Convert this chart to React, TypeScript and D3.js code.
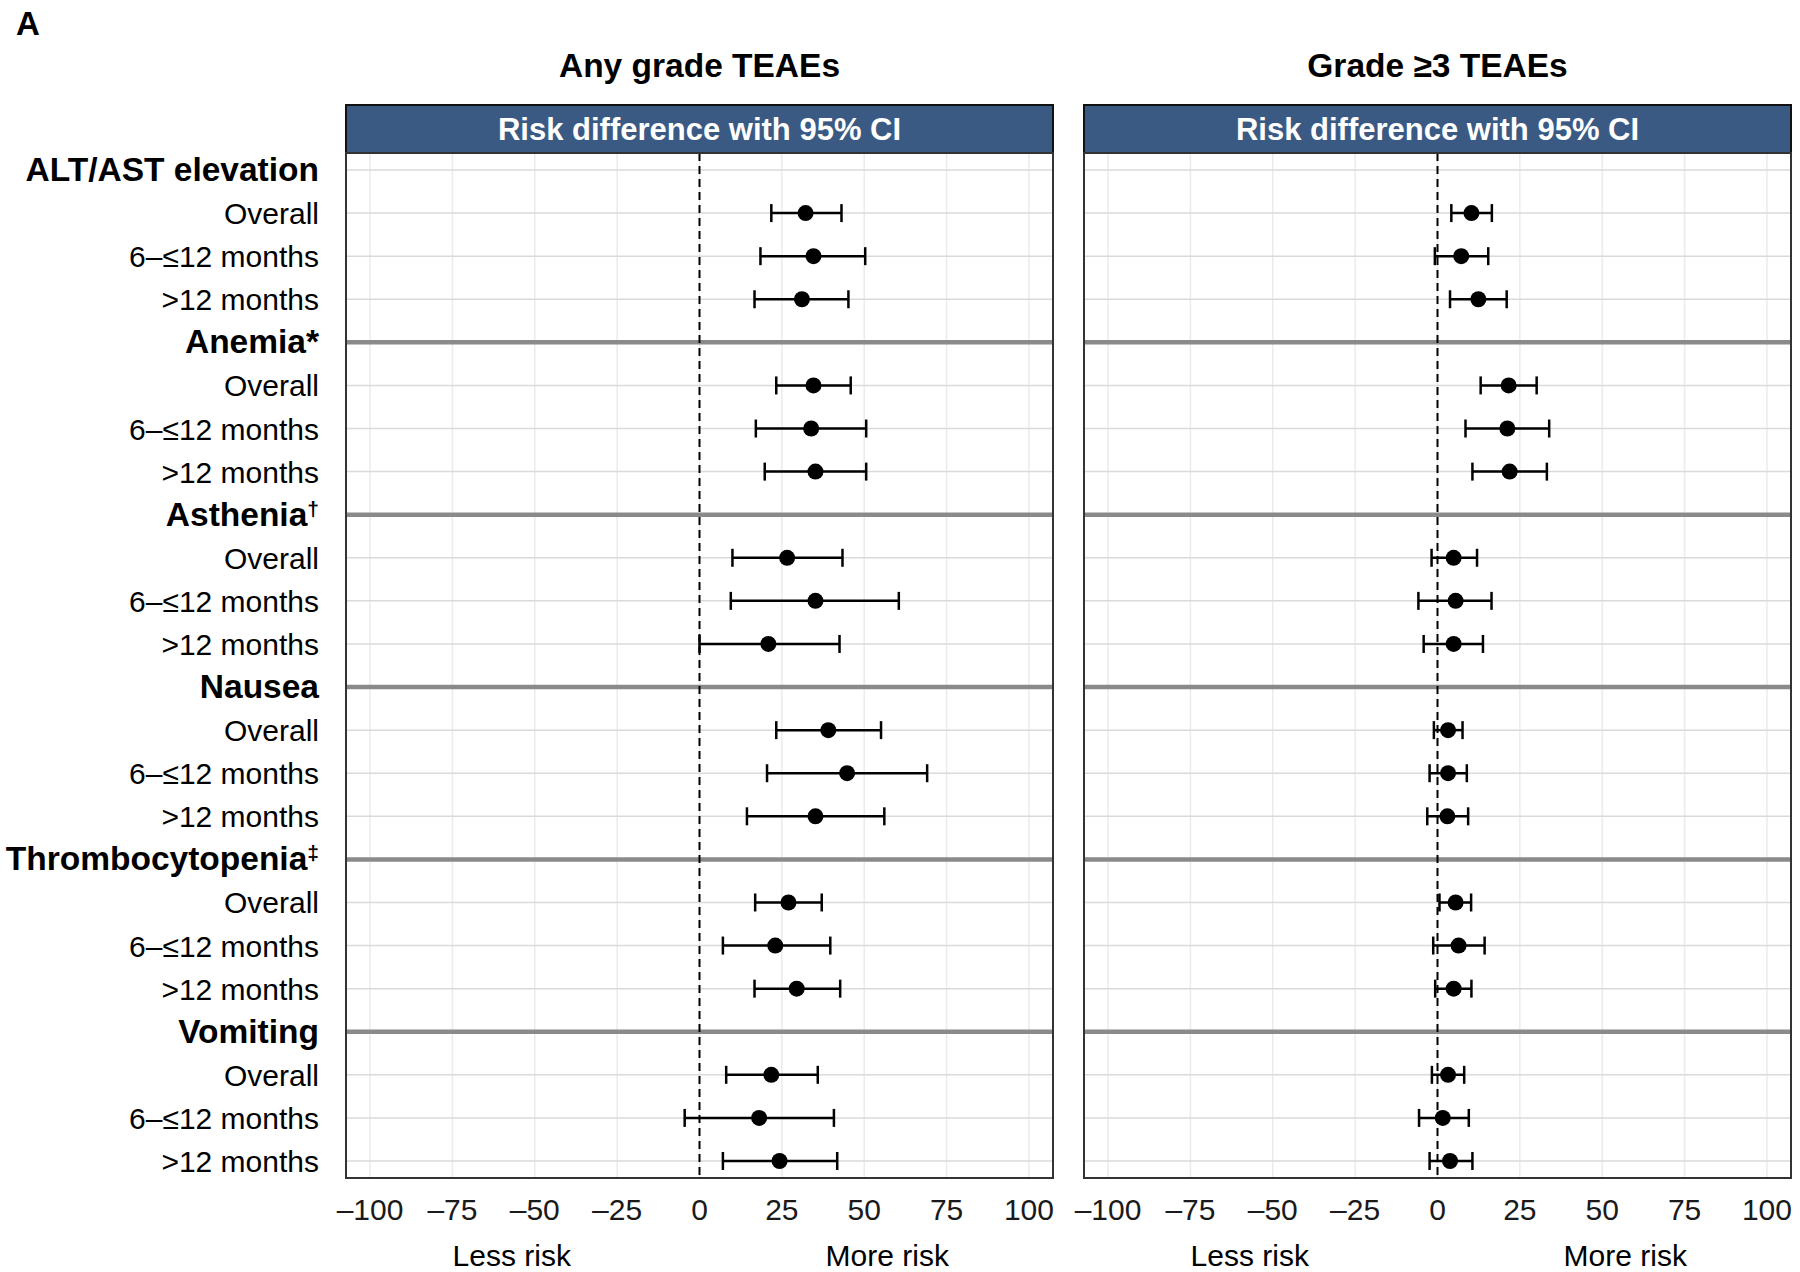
import React, { useEffect, useRef } from "react";
import * as d3 from "d3";

// adverse event groups and the subgroups shown under each
const groups = ["ALT/AST elevation", "Anemia", "Asthenia", "Nausea", "Thrombocytopenia", "Vomiting"];
const groupMarks = ["", "*", "†", "", "‡", ""];
const subgroups = ["Overall", "6–≤12 months", ">12 months"];

// Any grade TEAEs: risk difference (%) with 95% CI, 3 rows per group
const anyEst = [32.2, 34.6, 31.1, 34.6, 33.9, 35.2, 26.6, 35.2, 20.9, 39.1, 44.8, 35.2, 27.0, 23.0, 29.5, 21.8, 18.1, 24.3];
const anyLow = [21.8, 18.5, 16.7, 23.3, 17.1, 19.8, 10.0, 9.5, 0.0, 23.3, 20.5, 14.4, 16.9, 7.1, 16.7, 8.1, -4.5, 7.1];
const anyHigh = [43.1, 50.3, 45.2, 45.9, 50.6, 50.6, 43.4, 60.5, 42.5, 55.1, 69.1, 56.1, 37.1, 39.7, 42.7, 35.9, 40.8, 41.8];

// Grade >=3 TEAEs
const g3Est = [10.3, 7.2, 12.4, 21.6, 21.2, 21.9, 4.9, 5.5, 4.9, 3.2, 3.2, 3.0, 5.5, 6.4, 4.9, 3.2, 1.6, 3.8];
const g3Low = [4.2, -0.8, 3.8, 13.1, 8.5, 10.6, -1.8, -5.8, -4.2, -1.1, -2.4, -3.1, 0.6, -1.3, -0.7, -1.7, -5.6, -2.4];
const g3High = [16.5, 15.4, 21.0, 30.1, 33.9, 33.2, 12.0, 16.4, 13.8, 7.6, 8.9, 9.3, 10.2, 14.3, 10.3, 8.1, 9.5, 10.6];

const xTicks = [-100, -75, -50, -25, 0, 25, 50, 75, 100];
const panelTitles = ["Any grade TEAEs", "Grade ≥3 TEAEs"];
const stripLabel = "Risk difference with 95% CI";
const directionLabels = ["Less risk", "More risk"];
const directionAt = [-57, 57];

const FONT = "'Liberation Sans', Arial, sans-serif";

const App = () => {
  const chartRef = useRef(null);

  useEffect(() => {
    document.body.style.margin = "0";

    const width = 1800;
    const height = 1272;
    const panelW = 707;
    const panelLefts = [346, 1084];
    const stripTop = 105;
    const stripBottom = 153;
    const bodyBottom = 1178;

    // one row per group header + 3 subgroup rows
    const rows: { key: string; group: number; sub: number }[] = [];
    groups.forEach((g, gi) => {
      rows.push({ key: `g${gi}`, group: gi, sub: -1 });
      subgroups.forEach((s, si) => rows.push({ key: `g${gi}s${si}`, group: gi, sub: si }));
    });

    const y = d3
      .scalePoint()
      .domain(rows.map((r) => r.key))
      .range([170, 1161]);

    d3.select(chartRef.current).selectAll("*").remove();

    const svg = d3
      .select(chartRef.current)
      .append("svg")
      .attr("width", width)
      .attr("height", height)
      .style("display", "block")
      .style("background", "#fff")
      .style("font-family", FONT);

    // panel letter
    svg
      .append("text")
      .attr("x", 16)
      .attr("y", 35)
      .style("font-size", "33px")
      .style("font-weight", "bold")
      .text("A");

    // row labels
    const labels = svg.append("g").attr("text-anchor", "end");
    rows.forEach((r) => {
      const t = labels
        .append("text")
        .attr("x", 319)
        .attr("y", y(r.key) + 11)
        .style("fill", "#000");
      if (r.sub < 0) {
        t.style("font-size", "33.5px").style("font-weight", "bold").text(groups[r.group]);
        const mark = groupMarks[r.group];
        if (mark === "*") t.append("tspan").text("*");
        else if (mark)
          t.append("tspan")
            .attr("dy", -10)
            .style("font-size", "21px")
            .text(mark);
      } else {
        t.style("font-size", "30px").text(subgroups[r.sub]);
      }
    });

    const panels = [
      { est: anyEst, low: anyLow, high: anyHigh },
      { est: g3Est, low: g3Low, high: g3High },
    ];

    panels.forEach((p, pi) => {
      const left = panelLefts[pi];
      const x = d3
        .scaleLinear()
        .domain([-107.3, 107.3])
        .range([left, left + panelW]);

      const g = svg.append("g");

      // title
      g.append("text")
        .attr("x", left + panelW / 2)
        .attr("y", 77)
        .attr("text-anchor", "middle")
        .style("font-size", "33.5px")
        .style("font-weight", "bold")
        .text(panelTitles[pi]);

      // strip header
      g.append("rect")
        .attr("x", left)
        .attr("y", stripTop)
        .attr("width", panelW)
        .attr("height", stripBottom - stripTop)
        .attr("fill", "#3a5a84")
        .attr("stroke", "#111")
        .attr("stroke-width", 2);
      g.append("text")
        .attr("x", left + panelW / 2)
        .attr("y", (stripTop + stripBottom) / 2 + 11)
        .attr("text-anchor", "middle")
        .style("fill", "#fff")
        .style("font-size", "31px")
        .style("font-weight", "bold")
        .text(stripLabel);

      // vertical grid
      g.selectAll(".vgrid")
        .data(xTicks)
        .join("line")
        .attr("x1", (d) => x(d))
        .attr("x2", (d) => x(d))
        .attr("y1", stripBottom)
        .attr("y2", bodyBottom)
        .attr("stroke", "#ebebeb")
        .attr("stroke-width", 1.5);

      // horizontal grid, thick separators for groups after the first
      g.selectAll(".hgrid")
        .data(rows)
        .join("line")
        .attr("x1", left)
        .attr("x2", left + panelW)
        .attr("y1", (d) => y(d.key))
        .attr("y2", (d) => y(d.key))
        .attr("stroke", (d) => (d.sub < 0 && d.group > 0 ? "#8a8a8a" : "#dadada"))
        .attr("stroke-width", (d) => (d.sub < 0 && d.group > 0 ? 4.5 : 1.5));

      // zero reference
      g.append("line")
        .attr("x1", x(0))
        .attr("x2", x(0))
        .attr("y1", stripBottom)
        .attr("y2", bodyBottom)
        .attr("stroke", "#000")
        .attr("stroke-width", 2)
        .attr("stroke-dasharray", "8,5");

      // error bars
      const subRows = rows.filter((r) => r.sub >= 0);
      const bars = g
        .selectAll(".ci")
        .data(subRows)
        .join("g")
        .attr("stroke", "#000")
        .attr("stroke-width", 2.5);
      bars
        .append("line")
        .attr("x1", (d, i) => x(p.low[i]))
        .attr("x2", (d, i) => x(p.high[i]))
        .attr("y1", (d) => y(d.key))
        .attr("y2", (d) => y(d.key));
      bars
        .append("line")
        .attr("x1", (d, i) => x(p.low[i]))
        .attr("x2", (d, i) => x(p.low[i]))
        .attr("y1", (d) => y(d.key) - 9)
        .attr("y2", (d) => y(d.key) + 9);
      bars
        .append("line")
        .attr("x1", (d, i) => x(p.high[i]))
        .attr("x2", (d, i) => x(p.high[i]))
        .attr("y1", (d) => y(d.key) - 9)
        .attr("y2", (d) => y(d.key) + 9);

      // point estimates
      g.selectAll(".pt")
        .data(subRows)
        .join("circle")
        .attr("cx", (d, i) => x(p.est[i]))
        .attr("cy", (d) => y(d.key))
        .attr("r", 8)
        .attr("fill", "#000");

      // panel border
      g.append("rect")
        .attr("x", left)
        .attr("y", stripBottom)
        .attr("width", panelW)
        .attr("height", bodyBottom - stripBottom)
        .attr("fill", "none")
        .attr("stroke", "#333")
        .attr("stroke-width", 2);

      // x tick labels
      g.selectAll(".tick")
        .data(xTicks)
        .join("text")
        .attr("x", (d) => x(d))
        .attr("y", 1220)
        .attr("text-anchor", "middle")
        .style("font-size", "30px")
        .style("fill", "#1a1a1a")
        .text((d) => (d < 0 ? "–" : "") + Math.abs(d));

      // direction labels
      g.selectAll(".dir")
        .data(directionLabels)
        .join("text")
        .attr("x", (d, i) => x(directionAt[i]))
        .attr("y", 1266)
        .attr("text-anchor", "middle")
        .style("font-size", "30px")
        .style("fill", "#000")
        .text((d) => d);
    });
  }, []);

  return <div ref={chartRef}></div>;
};

export default App;
